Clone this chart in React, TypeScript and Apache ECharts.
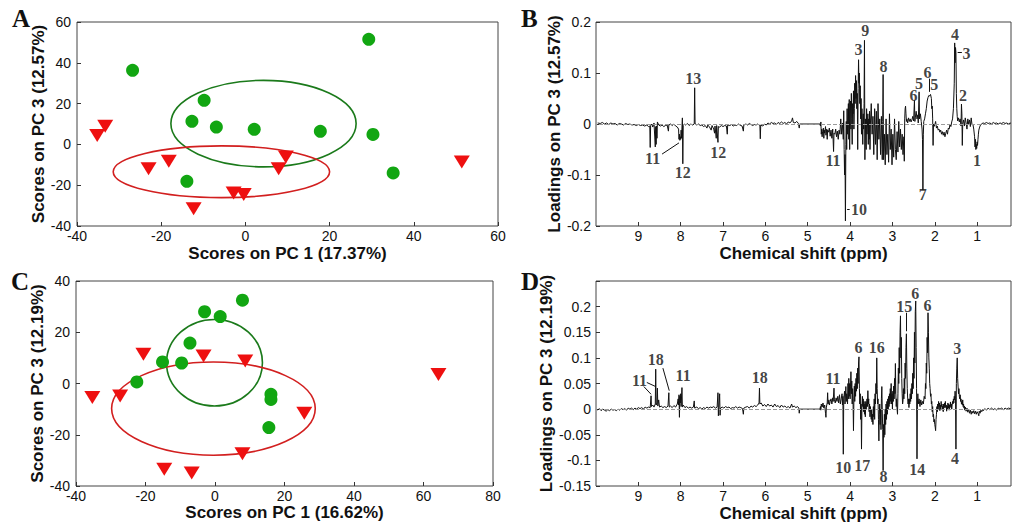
import React, { useEffect, useRef } from 'react';
import * as echarts from 'echarts';

// ---------- Panel A: scores PC1 vs PC3 ----------
const aGreen = [[-26.8,36.3],[29.3,51.5],[-9.8,21.6],[-12.7,11.3],[-6.9,8.5],[2.1,7.4],[17.8,6.4],[30.3,4.9],[35.1,-14.0],[-13.9,-18.1]];
const aRed = [[-35.2,4.4],[-33.3,8.9],[-23.0,-11.9],[-18.2,-8.3],[-12.3,-31.5],[-2.8,-23.8],[-0.4,-24.5],[7.9,-11.9],[9.6,-6.2],[51.4,-8.6]];
// ellipses: [centerX, centerY, radiusX, radiusY]
const aEllipses = [[4.3,10.2,22.0,21.2],[-5.7,-13.4,25.7,12.7]];

// ---------- Panel C ----------
const cGreen = [[7.9,32.5],[-3.0,28.0],[1.5,26.1],[-7.2,15.8],[-15.1,8.4],[-9.6,8.0],[-22.5,0.6],[16.1,-4.2],[16.1,-6.2],[15.5,-17.2]];
const cRed = [[-20.6,11.4],[-3.3,10.7],[8.7,8.8],[-35.3,-5.5],[-27.3,-4.9],[25.7,-11.6],[7.9,-27.4],[-14.6,-33.5],[-6.7,-34.9],[64.3,3.5]];
const cEllipses = [[-0.15,8.1,13.8,16.9],[-0.45,-9.8,29.3,18.2]];

const ellipseColors = ['#1b7a1b', '#d21f1f'];

// ---------- Panel B: loadings spectrum ----------
const specB = [
[9.96,0.002],[9.9,0.001],[9.85,0.003],[9.8,0.000],[9.75,0.002],[9.7,-0.001],[9.65,0.002],[9.6,0.000],[9.55,0.001],[9.5,-0.002],[9.45,0.001],[9.4,0.000],[9.35,-0.002],[9.3,0.001],[9.25,-0.001],[9.2,0.000],[9.15,-0.002],[9.1,-0.001],[9.05,-0.003],[9.0,-0.001],[8.95,-0.003],[8.9,-0.002],[8.85,-0.004],[8.8,-0.002],[8.76,-0.005],
[8.73,-0.004],[8.72,-0.046],[8.71,-0.003],[8.68,0.000],[8.66,-0.006],[8.63,0.002],[8.60,-0.045],[8.59,-0.005],[8.58,-0.040],[8.57,-0.004],[8.56,-0.028],[8.55,0.004],[8.52,-0.002],[8.48,-0.004],[8.44,-0.002],[8.40,-0.005],[8.36,-0.003],[8.32,-0.002],[8.29,-0.014],[8.28,-0.002],[8.24,0.000],[8.20,-0.003],[8.16,0.000],[8.12,-0.004],[8.08,-0.006],[8.05,-0.010],[8.04,-0.030],[8.03,-0.020],[8.02,-0.032],[8.01,-0.025],[8.00,-0.030],[7.99,-0.012],[7.98,-0.028],[7.96,0.012],[7.95,-0.078],[7.94,-0.003],[7.92,0.000],[7.88,-0.002],[7.84,0.001],[7.80,-0.003],[7.76,0.000],[7.72,-0.002],[7.68,0.000],[7.67,0.071],[7.66,0.001],[7.62,-0.002],[7.58,0.000],[7.54,-0.003],[7.50,-0.002],[7.46,-0.005],[7.42,-0.003],[7.38,-0.008],[7.36,-0.002],[7.32,-0.006],[7.28,-0.012],[7.26,-0.003],[7.22,-0.010],[7.20,-0.018],[7.19,-0.004],[7.16,-0.028],[7.15,-0.003],[7.12,-0.036],[7.11,-0.005],[7.08,-0.006],[7.04,-0.003],[7.00,-0.005],[6.96,-0.003],[6.92,-0.004],[6.90,-0.020],[6.89,-0.002],[6.84,-0.003],[6.80,-0.001],[6.76,-0.004],[6.72,-0.002],[6.68,-0.003],[6.64,0.000],[6.60,-0.002],[6.55,-0.004],[6.52,-0.014],[6.51,-0.002],[6.46,0.000],[6.42,-0.002],[6.38,0.001],[6.34,-0.001],[6.30,-0.003],[6.26,-0.001],[6.22,-0.002],[6.18,0.000],[6.13,-0.003],[6.12,-0.029],[6.11,-0.002],[6.06,-0.004],[6.02,0.000],[5.98,-0.002],[5.94,0.002],[5.9,0.000],[5.86,0.003],[5.82,0.001],[5.78,0.002],[5.74,-0.001],[5.70,0.003],[5.66,0.001],[5.62,0.004],[5.58,0.001],[5.54,0.003],[5.50,0.000],[5.46,0.004],[5.42,0.002],[5.38,0.006],[5.36,0.012],[5.34,0.003],[5.30,0.002],[5.26,0.005],[5.22,0.001],[5.20,-0.008],[5.19,0.000],
[4.71,0.000],
[4.70,-0.004],[4.69,0.004],[4.68,-0.020],[4.67,-0.010],[4.66,-0.025],[4.65,-0.015],[4.63,-0.008],[4.62,-0.028],[4.61,-0.012],[4.60,-0.018],[4.58,-0.005],[4.57,-0.022],[4.55,-0.010],[4.54,-0.030],[4.53,-0.012],[4.51,-0.016],[4.49,-0.008],[4.47,-0.024],[4.45,-0.012],[4.43,-0.028],[4.41,-0.010],[4.39,-0.054],[4.38,-0.018],[4.36,-0.020],[4.34,-0.010],[4.32,-0.025],[4.30,-0.014],[4.28,-0.030],[4.26,-0.012],[4.24,-0.020],[4.22,0.010],[4.20,-0.020],[4.18,0.002],[4.16,-0.030],[4.15,0.026],[4.14,-0.050],[4.13,-0.100],[4.12,-0.060],[4.11,-0.190],[4.10,-0.040],[4.09,0.005],[4.08,-0.050],[4.07,0.030],[4.06,-0.020],[4.04,0.040],[4.03,-0.030],[4.02,0.048],[4.01,-0.050],[4.00,0.020],[3.99,0.045],[3.98,-0.010],[3.97,0.060],[3.96,0.010],[3.95,-0.040],[3.94,0.040],[3.93,0.020],[3.92,0.065],[3.91,-0.010],[3.90,0.030],[3.89,0.080],[3.88,0.040],[3.87,0.095],[3.86,0.050],[3.85,0.085],[3.84,0.030],[3.83,0.060],[3.82,-0.050],[3.81,0.070],[3.80,0.126],[3.79,0.080],[3.78,0.100],[3.77,0.040],[3.76,0.075],[3.75,0.010],[3.74,0.050],[3.73,-0.020],[3.72,0.030],[3.70,-0.040],[3.69,0.020],[3.68,-0.010],[3.67,0.040],[3.66,0.164],[3.65,-0.070],[3.64,0.010],[3.62,-0.050],[3.61,0.030],[3.60,-0.020],[3.58,0.020],[3.57,-0.040],[3.56,0.010],[3.55,-0.030],[3.54,0.025],[3.53,-0.050],[3.52,0.000],
[3.50,0.040],[3.48,-0.020],[3.46,0.015],[3.44,-0.060],[3.42,0.030],[3.40,-0.040],[3.38,0.025],[3.36,-0.070],[3.34,0.040],[3.32,-0.030],[3.30,0.010],[3.28,-0.060],[3.26,0.015],[3.24,-0.070],[3.23,0.005],[3.22,0.097],[3.21,-0.070],[3.19,-0.020],[3.17,-0.080],[3.15,0.010],[3.13,-0.060],[3.11,-0.020],[3.09,-0.075],[3.07,0.020],[3.05,-0.050],[3.03,-0.010],[3.01,-0.080],[2.99,-0.020],[2.97,-0.065],[2.95,0.010],[2.93,-0.050],[2.91,-0.070],[2.89,-0.015],[2.87,-0.055],[2.85,0.005],[2.83,-0.045],[2.81,-0.010],[2.79,-0.050],[2.77,-0.020],[2.75,-0.060],[2.73,-0.025],[2.72,-0.073],
[2.71,0.010],[2.70,0.030],[2.69,0.035],[2.68,0.020],[2.67,0.005],[2.66,0.010],[2.64,0.002],[2.62,0.012],[2.60,0.005],[2.58,0.010],[2.56,0.004],[2.54,0.008],[2.52,0.015],[2.50,0.006],[2.48,0.046],[2.47,0.005],[2.46,0.012],[2.44,0.025],[2.42,0.010],[2.40,0.018],[2.39,0.002],[2.37,0.063],[2.36,0.010],[2.34,0.020],[2.32,0.005],[2.30,-0.010],[2.29,-0.030],[2.28,-0.129],[2.27,-0.020],[2.26,0.005],[2.24,0.010],[2.22,0.020],[2.20,0.030],[2.18,0.045],[2.16,0.052],[2.14,0.056],[2.12,0.055],[2.10,0.058],[2.08,0.050],[2.07,0.030],[2.06,0.035],[2.05,0.010],[2.04,-0.042],[2.03,0.000],[2.02,-0.005],[2.00,-0.002],[1.98,0.005],[1.96,-0.008],[1.94,-0.004],[1.92,-0.012],[1.90,-0.010],[1.88,-0.016],[1.86,-0.012],[1.84,-0.020],[1.82,-0.015],[1.80,-0.022],[1.78,-0.016],[1.76,-0.025],[1.74,-0.018],[1.72,-0.012],[1.70,-0.020],[1.68,-0.008],[1.66,-0.010],[1.64,0.000],[1.62,-0.005],[1.60,0.004],[1.58,0.010],[1.56,0.030],[1.54,0.080],[1.53,0.159],[1.52,0.120],[1.51,0.150],[1.50,0.140],[1.49,0.060],[1.48,0.030],[1.47,0.015],[1.46,0.006],[1.44,0.012],[1.42,0.004],[1.40,0.010],[1.38,-0.004],[1.37,0.039],[1.36,0.020],[1.35,-0.042],[1.34,0.000],[1.32,0.008],[1.30,-0.004],[1.28,0.012],[1.26,0.002],[1.24,-0.010],[1.22,0.010],[1.20,0.000],[1.18,0.008],[1.16,-0.005],[1.14,0.012],[1.12,-0.002],[1.10,0.000],[1.08,-0.010],[1.06,-0.025],[1.05,-0.045],[1.04,-0.030],[1.03,-0.050],[1.02,-0.040],[1.01,-0.048],[1.00,-0.035],[0.99,-0.042],[0.98,-0.030],[0.97,-0.020],[0.96,-0.012],[0.94,-0.006],[0.92,-0.002],[0.9,0.000],[0.86,0.002],[0.82,0.001],[0.78,0.003],[0.74,0.001],[0.70,0.002],[0.66,0.000],[0.62,0.003],[0.58,0.001],[0.54,0.002],[0.50,0.000],[0.46,0.002],[0.42,0.001],[0.38,0.003],[0.34,0.001],[0.30,0.002],[0.26,0.000],[0.22,0.002],[0.20,0.001]
];
// [ppm, loading, label]
const annB = [
[7.69,0.088,'13'],[8.65,-0.068,'11'],[7.94,-0.096,'12'],[7.10,-0.057,'12'],
[4.39,-0.073,'11'],[3.78,-0.168,'10'],[3.63,0.182,'9'],[3.79,0.146,'3'],[3.20,0.112,'8'],
[2.27,-0.139,'7'],[2.49,0.054,'6'],[2.36,0.079,'5'],[2.16,0.100,'6'],[2.00,0.077,'5'],
[1.51,0.175,'4'],[1.24,0.137,'3'],[1.32,0.054,'2'],[0.99,-0.073,'1']
];
const leadB = [
[[8.44,-0.059],[8.04,-0.037]],
[[4.07,-0.168],[4.01,-0.168]],
[[1.46,0.140],[1.36,0.140]],
[[2.14,0.089],[2.14,0.063]]
];

// ---------- Panel D ----------
const specD = [
[9.96,-0.002],[9.92,0.001],[9.88,-0.003],[9.84,0.000],[9.8,-0.002],[9.76,-0.004],[9.72,-0.001],[9.68,-0.003],[9.64,0.000],[9.6,-0.002],[9.56,-0.001],[9.52,-0.003],[9.48,0.000],[9.44,-0.002],[9.4,0.001],[9.36,-0.001],[9.32,0.001],[9.28,-0.002],[9.24,0.002],[9.2,0.000],[9.16,0.002],[9.12,-0.001],[9.08,0.002],[9.04,0.000],[9.0,0.003],[8.96,0.001],[8.92,0.003],[8.88,0.000],[8.84,0.004],[8.80,0.002],[8.76,0.004],[8.72,0.003],[8.70,0.026],[8.69,0.005],[8.66,0.008],[8.63,0.004],[8.60,0.010],[8.59,0.078],[8.58,0.008],[8.56,0.012],[8.55,0.041],[8.54,0.006],[8.52,0.018],[8.50,0.004],[8.46,0.006],[8.42,0.003],[8.38,0.005],[8.34,0.003],[8.30,0.006],[8.28,0.032],[8.27,0.004],[8.24,0.006],[8.20,0.003],[8.16,0.007],[8.12,0.004],[8.08,0.010],[8.06,0.020],[8.05,0.008],[8.04,0.028],[8.03,-0.016],[8.02,0.025],[8.01,0.012],[8.00,0.030],[7.99,0.005],[7.97,0.042],[7.96,0.004],[7.94,0.008],[7.90,0.003],[7.86,0.005],[7.82,0.002],[7.78,0.004],[7.74,0.002],[7.70,0.004],[7.68,0.016],[7.67,0.002],[7.62,0.004],[7.58,0.001],[7.54,0.003],[7.50,0.000],[7.46,0.003],[7.42,0.001],[7.38,0.004],[7.34,0.002],[7.30,0.004],[7.26,0.003],[7.22,0.005],[7.18,0.002],[7.14,0.004],[7.12,0.032],[7.11,-0.013],[7.10,0.003],[7.08,0.030],[7.07,-0.012],[7.06,0.002],[7.02,0.004],[6.98,0.002],[6.94,0.005],[6.90,0.003],[6.86,0.004],[6.82,0.001],[6.78,0.003],[6.74,0.002],[6.70,0.005],[6.66,0.002],[6.62,0.004],[6.58,0.003],[6.54,0.001],[6.52,-0.010],[6.51,0.002],[6.46,0.004],[6.42,0.005],[6.38,0.002],[6.34,0.006],[6.30,0.004],[6.26,0.007],[6.22,0.005],[6.18,0.008],[6.15,0.012],[6.14,0.041],[6.13,0.010],[6.10,0.012],[6.06,0.006],[6.02,0.009],[5.98,0.005],[5.94,0.010],[5.90,0.006],[5.86,0.008],[5.82,0.004],[5.78,0.010],[5.74,0.005],[5.70,0.007],[5.66,0.003],[5.62,0.008],[5.58,0.004],[5.54,0.006],[5.50,0.003],[5.46,0.005],[5.42,0.002],[5.38,0.010],[5.36,0.004],[5.32,0.006],[5.28,0.003],[5.24,0.005],[5.21,0.002],[5.20,-0.008],[5.19,0.000],
[4.71,0.000],
[4.70,0.005],[4.69,-0.002],[4.68,0.010],[4.66,0.004],[4.64,0.012],[4.62,0.002],[4.60,0.008],[4.58,-0.008],[4.57,-0.016],[4.56,0.004],[4.54,0.012],[4.53,0.032],[4.52,0.010],[4.50,0.018],[4.49,0.008],[4.47,0.015],[4.45,0.020],[4.43,0.010],[4.41,0.022],[4.40,0.015],[4.38,0.041],[4.37,0.018],[4.35,0.012],[4.33,0.022],[4.31,0.015],[4.29,0.025],[4.27,0.012],[4.25,0.028],[4.23,0.010],[4.21,0.020],[4.19,0.030],[4.18,0.008],[4.17,0.025],[4.16,-0.088],[4.15,0.020],[4.13,0.035],[4.12,0.010],[4.10,0.044],[4.09,0.015],[4.08,0.030],[4.06,0.010],[4.05,0.050],[4.04,0.020],[4.03,0.060],[4.02,0.025],[4.01,0.050],[4.00,0.020],[3.99,0.045],[3.98,0.073],[3.97,0.030],[3.96,0.055],[3.95,0.010],[3.94,0.040],[3.93,0.015],[3.92,-0.042],[3.91,0.020],[3.90,0.045],[3.89,0.015],[3.88,0.050],[3.87,0.025],[3.86,0.060],[3.85,0.035],[3.84,0.070],[3.83,0.040],[3.82,0.080],[3.81,0.050],[3.80,0.090],[3.79,0.102],[3.78,0.040],[3.77,0.010],[3.76,0.030],[3.75,-0.020],[3.74,0.010],[3.73,-0.078],[3.72,0.005],[3.71,0.025],[3.70,0.005],[3.69,0.020],[3.68,-0.005],[3.67,0.015],[3.66,-0.010],[3.65,0.010],[3.64,-0.015],[3.63,0.015],[3.62,0.000],[3.60,0.020],[3.59,0.005],[3.58,0.036],[3.57,0.010],[3.56,0.020],[3.55,-0.005],[3.54,0.010],[3.53,-0.015],[3.52,0.005],[3.51,-0.010],[3.50,-0.020],[3.49,0.000],[3.48,-0.025],[3.47,-0.010],[3.46,-0.030],[3.45,0.005],[3.44,-0.015],[3.43,0.020],[3.42,-0.020],[3.41,0.030],[3.40,0.010],[3.39,0.050],[3.38,0.030],[3.37,0.100],[3.36,0.040],[3.35,0.010],[3.34,0.020],[3.33,-0.020],[3.32,-0.062],[3.31,-0.010],[3.30,0.010],[3.29,-0.030],[3.28,0.000],[3.27,-0.040],[3.26,0.020],[3.25,0.044],[3.24,0.000],[3.23,-0.040],[3.22,-0.120],[3.21,-0.030],[3.20,-0.055],[3.19,-0.010],[3.18,-0.050],[3.17,0.000],[3.16,-0.030],[3.15,0.010],[3.14,-0.020],[3.13,0.015],[3.12,-0.010],[3.11,0.020],[3.10,0.000],[3.09,0.025],[3.08,0.005],[3.07,0.030],[3.06,0.010],[3.05,0.040],[3.04,0.015],[3.03,0.050],[3.02,0.010],[3.01,0.030],[3.00,0.000],[2.99,0.035],[2.98,0.015],[2.97,0.045],[2.96,0.020],[2.95,0.060],[2.94,0.030],[2.93,0.089],[2.92,0.030],[2.91,0.005],[2.90,0.020],[2.89,0.000],[2.88,-0.010],[2.87,0.030],[2.86,0.080],[2.85,0.050],[2.84,0.120],[2.83,0.070],[2.82,0.150],[2.81,0.182],[2.80,0.100],[2.79,0.140],[2.78,0.060],[2.77,0.030],[2.76,0.010],[2.75,0.016],[2.74,0.040],[2.73,0.020],[2.72,0.060],[2.71,0.030],[2.70,0.090],[2.69,0.060],[2.68,0.120],[2.67,0.147],[2.66,0.080],[2.65,0.040],[2.64,0.020],[2.63,0.010],[2.62,0.020],[2.61,0.003],[2.60,0.020],[2.59,0.010],[2.58,0.030],[2.57,0.015],[2.56,0.040],[2.55,0.020],[2.54,0.050],[2.53,0.030],[2.52,0.070],[2.51,0.040],[2.50,0.100],[2.49,0.060],[2.48,0.150],[2.47,0.090],[2.46,0.190],[2.45,0.211],[2.44,0.120],[2.43,0.040],[2.42,-0.097],[2.41,0.010],[2.40,0.030],[2.39,0.010],[2.37,0.020],[2.35,0.005],[2.33,0.018],[2.31,0.008],[2.29,0.015],[2.27,0.010],[2.25,0.025],[2.23,0.020],[2.22,0.050],[2.21,0.040],[2.20,0.090],[2.19,0.070],[2.18,0.140],[2.17,0.110],[2.16,0.188],[2.15,0.150],[2.14,0.100],[2.13,0.080],[2.12,0.050],[2.11,0.040],[2.10,0.025],[2.09,0.030],[2.08,0.010],[2.07,0.015],[2.06,-0.005],[2.05,0.005],[2.04,-0.015],[2.03,-0.010],[2.02,-0.025],[2.01,-0.020],[2.00,-0.030],[1.99,-0.035],[1.98,-0.042],[1.97,-0.020],[1.96,-0.010],[1.95,0.005],[1.94,-0.005],[1.93,0.010],[1.92,0.000],[1.91,0.015],[1.90,0.005],[1.89,0.012],[1.88,-0.003],[1.87,0.008],[1.86,0.000],[1.85,0.015],[1.84,0.005],[1.83,0.010],[1.82,-0.002],[1.81,0.006],[1.80,-0.005],[1.79,0.010],[1.78,0.002],[1.77,0.012],[1.76,0.004],[1.75,0.015],[1.74,0.003],[1.73,0.008],[1.72,-0.004],[1.71,0.006],[1.70,0.000],[1.69,0.012],[1.68,0.002],[1.67,0.010],[1.66,-0.002],[1.65,0.008],[1.64,0.003],[1.63,0.014],[1.62,0.005],[1.61,0.010],[1.60,0.000],[1.59,0.008],[1.58,0.015],[1.57,0.010],[1.56,0.020],[1.55,0.012],[1.54,0.025],[1.53,0.018],[1.52,0.035],[1.51,0.020],[1.50,-0.078],[1.49,0.050],[1.48,0.080],[1.47,0.100],[1.46,0.060],[1.45,0.045],[1.44,0.030],[1.43,0.040],[1.42,0.025],[1.41,0.020],[1.40,0.028],[1.39,0.015],[1.38,0.020],[1.37,0.010],[1.36,0.015],[1.35,0.008],[1.34,0.018],[1.33,0.005],[1.32,0.010],[1.31,0.002],[1.30,0.006],[1.29,-0.002],[1.28,0.004],[1.26,-0.004],[1.24,0.002],[1.22,-0.006],[1.20,0.000],[1.18,-0.008],[1.16,-0.002],[1.14,-0.010],[1.12,-0.004],[1.10,-0.008],[1.08,-0.003],[1.06,-0.009],[1.04,-0.004],[1.02,-0.010],[1.00,-0.005],[0.98,-0.008],[0.96,-0.013],[0.95,-0.004],[0.93,-0.008],[0.91,-0.002],[0.89,-0.005],[0.87,-0.001],[0.85,-0.003],[0.82,0.001],[0.78,-0.002],[0.74,0.002],[0.70,-0.001],[0.66,0.002],[0.62,-0.001],[0.58,0.001],[0.54,-0.002],[0.50,0.002],[0.46,0.000],[0.42,0.002],[0.38,-0.001],[0.34,0.002],[0.30,0.000],[0.26,0.002],[0.22,0.001],[0.20,0.000]
];
const annD = [
[8.96,0.055,'11'],[8.58,0.095,'18'],[7.93,0.065,'11'],[6.12,0.060,'18'],
[4.39,0.058,'11'],[3.79,0.120,'6'],[3.36,0.120,'16'],[2.71,0.200,'15'],[2.45,0.225,'6'],[2.16,0.201,'6'],[1.46,0.118,'3'],
[1.51,-0.097,'4'],[2.40,-0.119,'14'],[3.20,-0.132,'8'],[4.15,-0.115,'10'],[3.70,-0.110,'17']
];
const leadD = [
[[8.87,0.044],[8.70,0.029]],
[[8.80,0.052],[8.59,0.044]],
[[8.42,0.080],[8.27,0.036]],
[[2.67,0.188],[2.67,0.152]]
];

const ppmTicks = [1, 2, 3, 4, 5, 6, 7, 8, 9];

const SANS = "'Liberation Sans', Arial, Helvetica, sans-serif";
const SERIF = "'Liberation Serif', 'Times New Roman', serif";
const INK = '#111';

function valueAxis(gridIndex: number, min: number, max: number, interval: number, name: string, nameGap: number, isY: boolean, extra: any = {}) {
  return {
    type: 'value',
    gridIndex,
    min,
    max,
    interval,
    name,
    nameLocation: 'middle',
    nameGap,
    nameRotate: isY ? 90 : 0,
    nameTextStyle: { fontFamily: SANS, fontWeight: 'bold', fontSize: 17, color: INK },
    axisLine: { show: false, onZero: false },
    axisTick: { show: true, inside: true, length: 4, lineStyle: { color: '#333', width: 1 } },
    splitLine: { show: false },
    axisLabel: { fontFamily: SANS, fontSize: 14, color: INK, margin: isY ? 6 : 3 },
    ...extra,
  };
}

function ppmAxis(gridIndex: number) {
  return {
    type: 'value',
    gridIndex,
    min: 0.2,
    max: 10,
    inverse: true,
    name: 'Chemical shift (ppm)',
    nameLocation: 'middle',
    nameGap: 19,
    nameTextStyle: { fontFamily: SANS, fontWeight: 'bold', fontSize: 17, color: INK },
    axisLine: { show: false, onZero: false },
    axisTick: { show: true, inside: true, length: 4, customValues: ppmTicks, lineStyle: { color: '#333', width: 1 } },
    splitLine: { show: false },
    axisLabel: { fontFamily: SANS, fontSize: 14, color: INK, margin: 3, customValues: ppmTicks },
  };
}

function ellipseSeries(data: number[][], xi: number) {
  return {
    type: 'custom',
    xAxisIndex: xi,
    yAxisIndex: xi,
    coordinateSystem: 'cartesian2d',
    encode: { x: 0, y: 1 },
    data,
    z: 1,
    silent: true,
    renderItem: (params: any, api: any) => {
      const cx = api.value(0), cy = api.value(1), rx = api.value(2), ry = api.value(3);
      const c = api.coord([cx, cy]);
      const e = api.coord([cx + rx, cy + ry]);
      return {
        type: 'ellipse',
        shape: { cx: c[0], cy: c[1], rx: Math.abs(e[0] - c[0]), ry: Math.abs(e[1] - c[1]) },
        style: { fill: 'none', stroke: ellipseColors[params.dataIndex], lineWidth: 1.6 },
      };
    },
  };
}

function scatterPair(green: number[][], red: number[][], xi: number) {
  return [
    {
      type: 'scatter', xAxisIndex: xi, yAxisIndex: xi, data: green, symbol: 'circle', symbolSize: 13,
      itemStyle: { color: '#12a612', opacity: 1 }, z: 3, silent: true,
    },
    {
      type: 'scatter', xAxisIndex: xi, yAxisIndex: xi, data: red, symbol: 'triangle', symbolRotate: 180, symbolSize: [16, 13],
      itemStyle: { color: '#ee1010', opacity: 1 }, z: 3, silent: true,
    },
  ];
}

function spectrumSeries(spec: number[][], ann: any[], lead: number[][][], xi: number) {
  return [
    {
      type: 'line', xAxisIndex: xi, yAxisIndex: xi, data: spec, symbol: 'none', showSymbol: false,
      lineStyle: { color: INK, width: 1 }, silent: true, z: 3,
      markLine: {
        silent: true,
        symbol: ['none', 'none'],
        label: { show: false },
        animation: false,
        data: [
          { yAxis: 0, lineStyle: { type: 'dashed', color: '#9a9a9a', width: 1 } },
          ...lead.map((l) => [
            { coord: l[0], lineStyle: { type: 'solid', color: INK, width: 1 } },
            { coord: l[1] },
          ]),
        ],
      },
    },
    {
      type: 'scatter', xAxisIndex: xi, yAxisIndex: xi, silent: true, z: 5,
      data: ann.map((a) => [a[0], a[1]]),
      symbolSize: 1,
      itemStyle: { color: 'rgba(0,0,0,0)' },
      label: {
        show: true,
        position: [0, 0],
        align: 'center',
        verticalAlign: 'middle',
        fontFamily: SERIF,
        fontWeight: 'bold',
        fontSize: 16,
        color: INK,
        formatter: (p: any) => ann[p.dataIndex][2],
      },
    },
  ];
}

const letterStyle = { font: `bold 25px ${SERIF}`, fill: INK };

const option: any = {
  animation: false,
  backgroundColor: '#ffffff',
  grid: [
    { left: 77, top: 22, width: 421, height: 204, show: true, borderColor: '#444', borderWidth: 1, backgroundColor: 'transparent' },
    { left: 596, top: 22, width: 415, height: 204, show: true, borderColor: '#444', borderWidth: 1, backgroundColor: 'transparent' },
    { left: 76, top: 281, width: 417, height: 205, show: true, borderColor: '#444', borderWidth: 1, backgroundColor: 'transparent' },
    { left: 596, top: 281, width: 415, height: 205, show: true, borderColor: '#444', borderWidth: 1, backgroundColor: 'transparent' },
  ],
  xAxis: [
    valueAxis(0, -40, 60, 20, 'Scores on PC 1 (17.37%)', 19, false),
    ppmAxis(1),
    valueAxis(2, -40, 80, 20, 'Scores on PC 1 (16.62%)', 17, false),
    ppmAxis(3),
  ],
  yAxis: [
    valueAxis(0, -40, 60, 20, 'Scores on PC 3 (12.57%)', 24, true),
    valueAxis(1, -0.2, 0.2, 0.1, 'Loadings on PC 3 (12.57%)', 23, true, {
      axisLabel: { fontFamily: SANS, fontSize: 14, color: INK, margin: 5, formatter: (v: number) => String(Number(v.toFixed(2))) },
    }),
    valueAxis(2, -40, 40, 20, 'Scores on PC 3 (12.19%)', 24, true),
    valueAxis(3, -0.15, 0.25, 0.05, 'Loadings on PC 3 (12.19%)', 23, true, {
      axisLabel: {
        fontFamily: SANS, fontSize: 14, color: INK, margin: 5,
        formatter: (v: number) => (v > 0.22 ? '' : String(Number(v.toFixed(2)))),
      },
    }),
  ],
  graphic: [
    { type: 'text', left: 12, top: 6, style: { text: 'A', ...letterStyle } },
    { type: 'text', left: 521, top: 6, style: { text: 'B', ...letterStyle } },
    { type: 'text', left: 11, top: 269, style: { text: 'C', ...letterStyle } },
    { type: 'text', left: 521, top: 269, style: { text: 'D', ...letterStyle } },
  ],
  series: [
    ellipseSeries(aEllipses, 0),
    ...scatterPair(aGreen, aRed, 0),
    ...spectrumSeries(specB, annB, leadB, 1),
    ellipseSeries(cEllipses, 2),
    ...scatterPair(cGreen, cRed, 2),
    ...spectrumSeries(specD, annD, leadD, 3),
  ],
};

export default function App() {
  const ref = useRef<HTMLDivElement>(null);
  useEffect(() => {
    if (!ref.current) return;
    const chart = echarts.init(ref.current, null, { renderer: 'svg' });
    chart.setOption(option);
    return () => chart.dispose();
  }, []);
  return (
    <div
      ref={ref}
      style={{ position: 'fixed', left: 0, top: 0, width: 1024, height: 532, background: '#fff' }}
    />
  );
}
